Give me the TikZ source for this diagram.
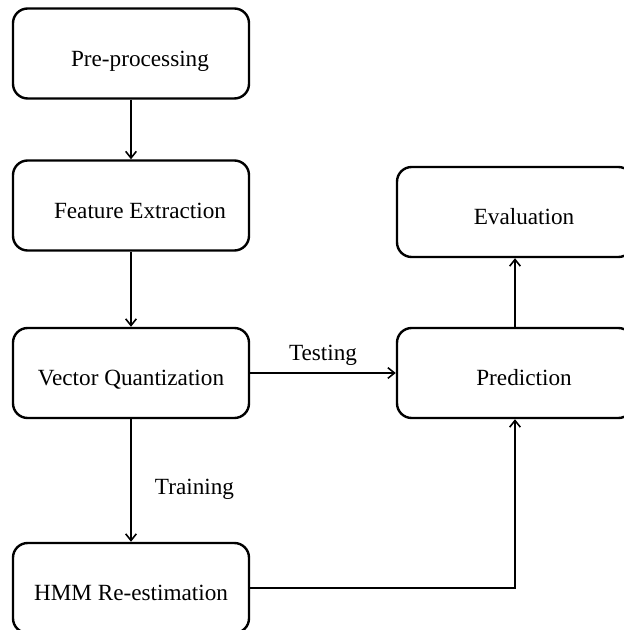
\documentclass[tikz,border=0pt]{standalone}
\usepackage{fontspec}
\setmainfont{Liberation Serif}
\usetikzlibrary{arrows.meta,positioning}

% small left padding, the labels sit a little right of centre
\newcommand{\lpad}{\hspace*{13.5pt}}

\tikzset{
  stage/.style={draw, line width=1.8pt, rounded corners=11pt,
    minimum width=177pt, minimum height=67.5pt,
    text height=19pt, text depth=0pt,
    font=\fontsize{17.4}{20}\selectfont},
  edgelabel/.style={font=\fontsize{17.4}{20}\selectfont},
  flow/.style={line width=1.2pt, -{Straight Barb[length=5pt,width=8pt]}}
}

\begin{document}
\begin{tikzpicture}[x=0.75pt,y=-0.75pt]
\useasboundingbox (0,0) rectangle (623,630);

\node[stage] (pre) at (131,53.5){\lpad Pre-processing};
\node[stage] (feat) at (131,205.5){\lpad Feature Extraction};
\node[stage] (vq) at (131,373){Vector Quantization};
\node[stage] (hmm) at (131,588){HMM Re-estimation};
\node[stage] (eval) at (515,212){\lpad Evaluation};
\node[stage] (pred) at (515,373){\lpad Prediction};

\draw[flow] (pre)--(feat);
\draw[flow] (feat)--(vq);
\draw[flow] (vq)--node[edgelabel, above=2pt]{Testing} (pred);
\draw[flow] (vq)--node[edgelabel, right=14pt, yshift=-6.5pt]{Training} (hmm);
\draw[flow] (hmm.east) -| (pred.south);
\draw[flow] (pred)--(eval);
\end{tikzpicture}
\end{document}
